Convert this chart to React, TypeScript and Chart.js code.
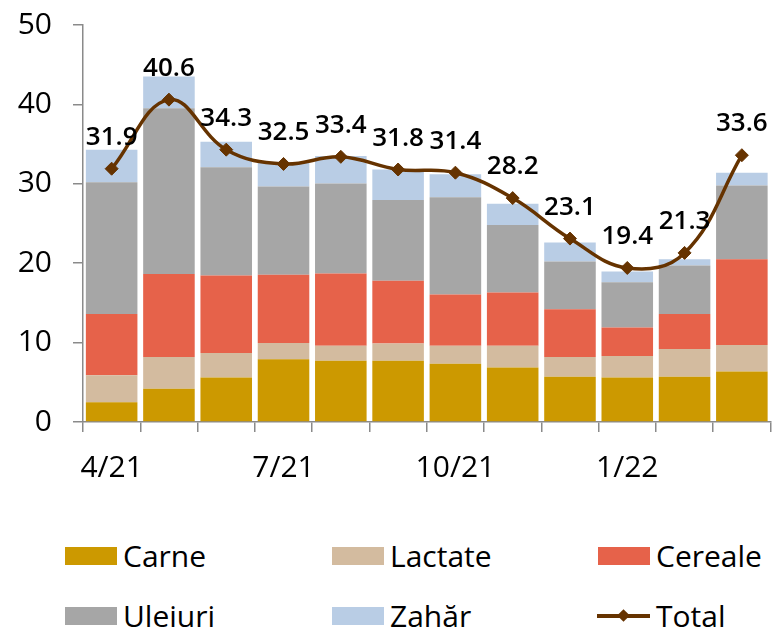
import React, { useEffect, useRef } from "react";
import { Chart, registerables } from "chart.js";

Chart.register(...registerables);

const months = ["4/21", "5/21", "6/21", "7/21", "8/21", "9/21", "10/21", "11/21", "12/21", "1/22", "2/22", "3/22"];
const carne = [2.5, 4.2, 5.6, 7.9, 7.7, 7.7, 7.35, 6.85, 5.7, 5.6, 5.7, 6.35];
const lactate = [3.4, 4.0, 3.1, 2.05, 1.9, 2.2, 2.25, 2.75, 2.5, 2.7, 3.5, 3.35];
const cereale = [7.7, 10.45, 9.75, 8.6, 9.1, 7.9, 6.45, 6.7, 6.0, 3.6, 4.4, 10.8];
const uleiuri = [16.6, 20.85, 13.65, 11.1, 11.35, 10.15, 12.25, 8.5, 6.0, 5.7, 6.1, 9.3];
const zahar = [4.1, 4.0, 3.2, 3.0, 3.45, 3.85, 2.9, 2.7, 2.4, 1.35, 0.8, 1.6];
const total = [31.9, 40.6, 34.3, 32.5, 33.4, 31.8, 31.4, 28.2, 23.1, 19.4, 21.3, 33.6];
const yTicks = [0, 10, 20, 30, 40, 50];

const COLORS = {
  carne: "#CC9900",
  lactate: "#D3BB9F",
  cereale: "#E6624A",
  uleiuri: "#A6A6A6",
  zahar: "#B9CDE5",
  total: "#663300",
};

const FONT = '"Open Sans", "Noto Sans", "DejaVu Sans", sans-serif';

const totalLabelsPlugin = {
  id: "totalLabels",
  afterDatasetsDraw(chart: any) {
    const idx = chart.data.datasets.findIndex((d: any) => d.type === "line");
    if (idx < 0) return;
    const meta = chart.getDatasetMeta(idx);
    const ctx = chart.ctx;
    ctx.save();
    ctx.font = `600 26px ${FONT}`;
    ctx.fillStyle = "#000";
    ctx.textAlign = "center";
    ctx.textBaseline = "alphabetic";
    meta.data.forEach((pt: any, i: number) => {
      ctx.fillText(total[i].toFixed(1), pt.x, pt.y - 24);
    });
    ctx.restore();
  },
};

const legendItems = [
  { label: "Carne", color: COLORS.carne, kind: "box", col: 0, row: 0 },
  { label: "Lactate", color: COLORS.lactate, kind: "box", col: 1, row: 0 },
  { label: "Cereale", color: COLORS.cereale, kind: "box", col: 2, row: 0 },
  { label: "Uleiuri", color: COLORS.uleiuri, kind: "box", col: 0, row: 1 },
  { label: "Zahăr", color: COLORS.zahar, kind: "box", col: 1, row: 1 },
  { label: "Total", color: COLORS.total, kind: "line", col: 2, row: 1 },
];
const legendCols = [65, 332, 598];
const legendRows = [556, 616];

export default function App() {
  const canvasRef = useRef<HTMLCanvasElement | null>(null);

  useEffect(() => {
    document.body.style.margin = "0";
    const canvas = canvasRef.current;
    if (!canvas) return;
    const barBase = {
      type: "bar" as const,
      stack: "bars",
      order: 1,
      barPercentage: 0.9,
      categoryPercentage: 1.0,
      borderWidth: 0,
    };
    const chart = new Chart(canvas, {
      type: "bar",
      data: {
        labels: months,
        datasets: [
          {
            type: "line",
            label: "Total",
            data: total,
            stack: "total",
            order: 0,
            borderColor: COLORS.total,
            backgroundColor: COLORS.total,
            borderWidth: 3.5,
            tension: 0.4,
            pointStyle: "rectRot",
            pointRadius: 6.5,
            pointBackgroundColor: COLORS.total,
            pointBorderColor: COLORS.total,
            pointBorderWidth: 1,
          } as any,
          { ...barBase, label: "Carne", data: carne, backgroundColor: COLORS.carne },
          { ...barBase, label: "Lactate", data: lactate, backgroundColor: COLORS.lactate },
          { ...barBase, label: "Cereale", data: cereale, backgroundColor: COLORS.cereale },
          { ...barBase, label: "Uleiuri", data: uleiuri, backgroundColor: COLORS.uleiuri },
          { ...barBase, label: "Zahăr", data: zahar, backgroundColor: COLORS.zahar },
        ],
      },
      options: {
        responsive: false,
        animation: false,
        layout: { padding: { top: 25, left: 0, right: 0, bottom: 0 } },
        plugins: {
          legend: { display: false },
          tooltip: { enabled: false },
        },
        scales: {
          x: {
            stacked: true,
            offset: true,
            grid: {
              offset: true,
              drawOnChartArea: false,
              drawTicks: true,
              tickLength: 10,
              color: "#8a8a8a",
              lineWidth: 1.5,
            },
            border: { display: true, color: "#8a8a8a", width: 1.5 },
            ticks: {
              autoSkip: false,
              maxRotation: 0,
              padding: 18,
              color: "#000",
              font: { family: FONT, size: 30 },
              callback: (_v: any, i: number) => (i % 3 === 0 ? months[i] : ""),
            },
            afterFit: (scale: any) => {
              scale.height = 78;
              scale.paddingLeft = 0;
              scale.paddingRight = 0;
            },
          },
          y: {
            stacked: true,
            min: yTicks[0],
            max: yTicks[yTicks.length - 1],
            afterBuildTicks: (scale: any) => {
              scale.ticks = yTicks.map((v) => ({ value: v }));
            },
            grid: {
              drawOnChartArea: false,
              drawTicks: true,
              tickLength: 10,
              color: "#8a8a8a",
              lineWidth: 1.5,
            },
            border: { display: true, color: "#8a8a8a", width: 1.5 },
            ticks: {
              padding: 21,
              color: "#000",
              font: { family: FONT, size: 30 },
            },
            afterFit: (scale: any) => {
              scale.width = 83;
              scale.paddingTop = 0;
              scale.paddingBottom = 0;
            },
          },
        },
      },
      plugins: [totalLabelsPlugin],
    });
    return () => chart.destroy();
  }, []);

  return (
    <div style={{ position: "relative", width: 778, height: 631, overflow: "hidden", background: "#fff" }}>
      <canvas ref={canvasRef} width={778} height={500} style={{ display: "block" }} />
      {legendItems.map((it) => (
        <div
          key={it.label}
          style={{
            position: "absolute",
            left: legendCols[it.col] - (it.kind === "line" ? 1 : 0),
            top: legendRows[it.row] - 20,
            height: 40,
            display: "flex",
            alignItems: "center",
            fontFamily: FONT,
            fontSize: 30,
            lineHeight: 1,
            color: "#000",
            whiteSpace: "nowrap",
          }}
        >
          {it.kind === "box" ? (
            <span style={{ display: "inline-block", width: 52, height: 18, background: it.color, marginRight: 6 }} />
          ) : (
            <span style={{ position: "relative", display: "inline-block", width: 53, height: 18, marginRight: 6 }}>
              <span
                style={{
                  position: "absolute",
                  left: 0,
                  top: 7,
                  width: 53,
                  height: 4,
                  background: it.color,
                }}
              />
              <span
                style={{
                  position: "absolute",
                  left: 22,
                  top: 4,
                  width: 9,
                  height: 9,
                  background: it.color,
                  transform: "rotate(45deg)",
                  transformOrigin: "center",
                }}
              />
            </span>
          )}
          <span>{it.label}</span>
        </div>
      ))}
    </div>
  );
}
